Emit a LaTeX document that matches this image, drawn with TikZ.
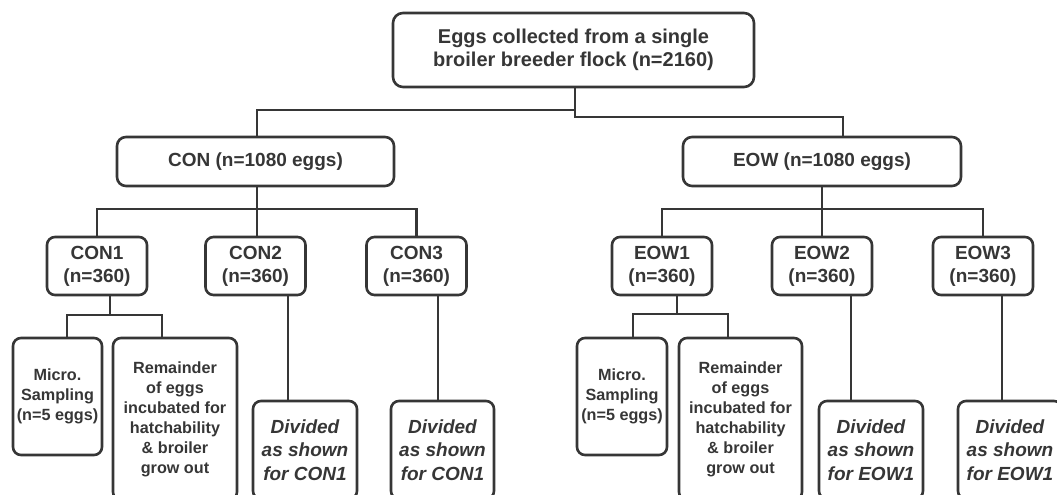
\documentclass[tikz,border=0pt]{standalone}
\usepackage{fontspec}
\setmainfont{Liberation Sans}
\definecolor{ink}{HTML}{363636}
\tikzset{
  box/.style={draw=ink, line width=2.6pt, rounded corners=9pt, align=center, inner sep=0pt,
    text=ink, font=\bfseries\fontsize{19}{23}\selectfont},
  topbox/.style={box, rounded corners=10pt, font=\bfseries\fontsize{20}{23}\selectfont},
  small/.style={box, rounded corners=8pt, font=\bfseries\fontsize{16.2}{20}\selectfont},
  divbox/.style={box, rounded corners=8pt, font=\bfseries\itshape\fontsize{19}{23.5}\selectfont},
  conn/.style={draw=ink, line width=2.6pt}
}
\begin{document}
\begin{tikzpicture}[x=1pt,y=-1pt]
\useasboundingbox (0,0) rectangle (1057,495);
% nodes
\node[topbox, minimum width=361pt, minimum height=74pt] (top) at (573.5,50) {Eggs collected from a single\\broiler breeder flock (n=2160)};
\node[box, minimum width=277pt, minimum height=49pt] (con) at (255.5,161.5) {CON (n=1080 eggs)};
\node[box, minimum width=278pt, minimum height=49pt] (eow) at (822,161.5) {EOW (n=1080 eggs)};
\node[box, rounded corners=8pt, minimum width=100pt, minimum height=58pt] (con1) at (97,266) {CON1\\(n=360)};
\node[box, rounded corners=8pt, minimum width=100pt, minimum height=58pt] (con2) at (255.5,266) {CON2\\(n=360)};
\node[box, rounded corners=8pt, minimum width=100pt, minimum height=58pt] (con3) at (416.5,266) {CON3\\(n=360)};
\node[box, rounded corners=8pt, minimum width=100pt, minimum height=58pt] (eow1) at (662,266) {EOW1\\(n=360)};
\node[box, rounded corners=8pt, minimum width=100pt, minimum height=58pt] (eow2) at (822,266) {EOW2\\(n=360)};
\node[box, rounded corners=8pt, minimum width=100pt, minimum height=58pt] (eow3) at (983,266) {EOW3\\(n=360)};
\node[small, minimum width=89pt, minimum height=117pt] (microc) at (57.5,396.5) {Micro.\\Sampling\\(n=5 eggs)};
\node[small, minimum width=124pt, minimum height=162pt] (remc) at (175,419) {Remainder\\of eggs\\incubated for\\hatchability\\\& broiler\\grow out};
\node[small, minimum width=90pt, minimum height=117pt] (microe) at (622,396.5) {Micro.\\Sampling\\(n=5 eggs)};
\node[small, minimum width=123pt, minimum height=162pt] (reme) at (740.5,419) {Remainder\\of eggs\\incubated for\\hatchability\\\& broiler\\grow out};
\node[divbox, minimum width=104pt, minimum height=98pt] (divc2) at (305,450) {Divided\\as shown\\for CON1};
\node[divbox, minimum width=103pt, minimum height=98pt] (divc3) at (442.5,450) {Divided\\as shown\\for CON1};
\node[divbox, minimum width=104pt, minimum height=98pt] (dive2) at (871,450) {Divided\\as shown\\for EOW1};
\node[divbox, minimum width=104pt, minimum height=98pt] (dive3) at (1010,450) {Divided\\as shown\\for EOW1};
% junctions
\coordinate (jt1) at (575,110);
\coordinate (jt2) at (575,117);
\coordinate (jc) at (257,209);
\coordinate (je) at (822,209);
\coordinate (kc) at (110,315);
\coordinate (ke) at (677,314);
% connectors
\draw[conn] (top.south -| jt2) -- (jt2) -| (eow.north -| 843,0);
\draw[conn] (jt1) -| (con.north -| jc);
\draw[conn] (con.south -| jc) -- (jc);
\draw[conn] (con1.north) |- (jc) -| (con3.north);
\draw[conn] (jc) -- (con2.north -| jc);
\draw[conn] (eow.south) -- (je);
\draw[conn] (eow1.north) |- (je) -| (eow3.north);
\draw[conn] (je) -- (eow2.north);
\draw[conn] (con1.south -| kc) -- (kc);
\draw[conn] (microc.north -| 67,0) |- (kc) -| (remc.north -| 162,0);
\draw[conn] (eow1.south -| ke) -- (ke);
\draw[conn] (microe.north -| 633,0) |- (ke) -| (reme.north -| 728,0);
\draw[conn] (con2.south -| 288,0) -- (divc2.north -| 288,0);
\draw[conn] (con3.south -| 438,0) -- (divc3.north -| 438,0);
\draw[conn] (eow2.south -| 851,0) -- (dive2.north -| 851,0);
\draw[conn] (eow3.south -| 1002,0) -- (dive3.north -| 1002,0);
\end{tikzpicture}
\end{document}
